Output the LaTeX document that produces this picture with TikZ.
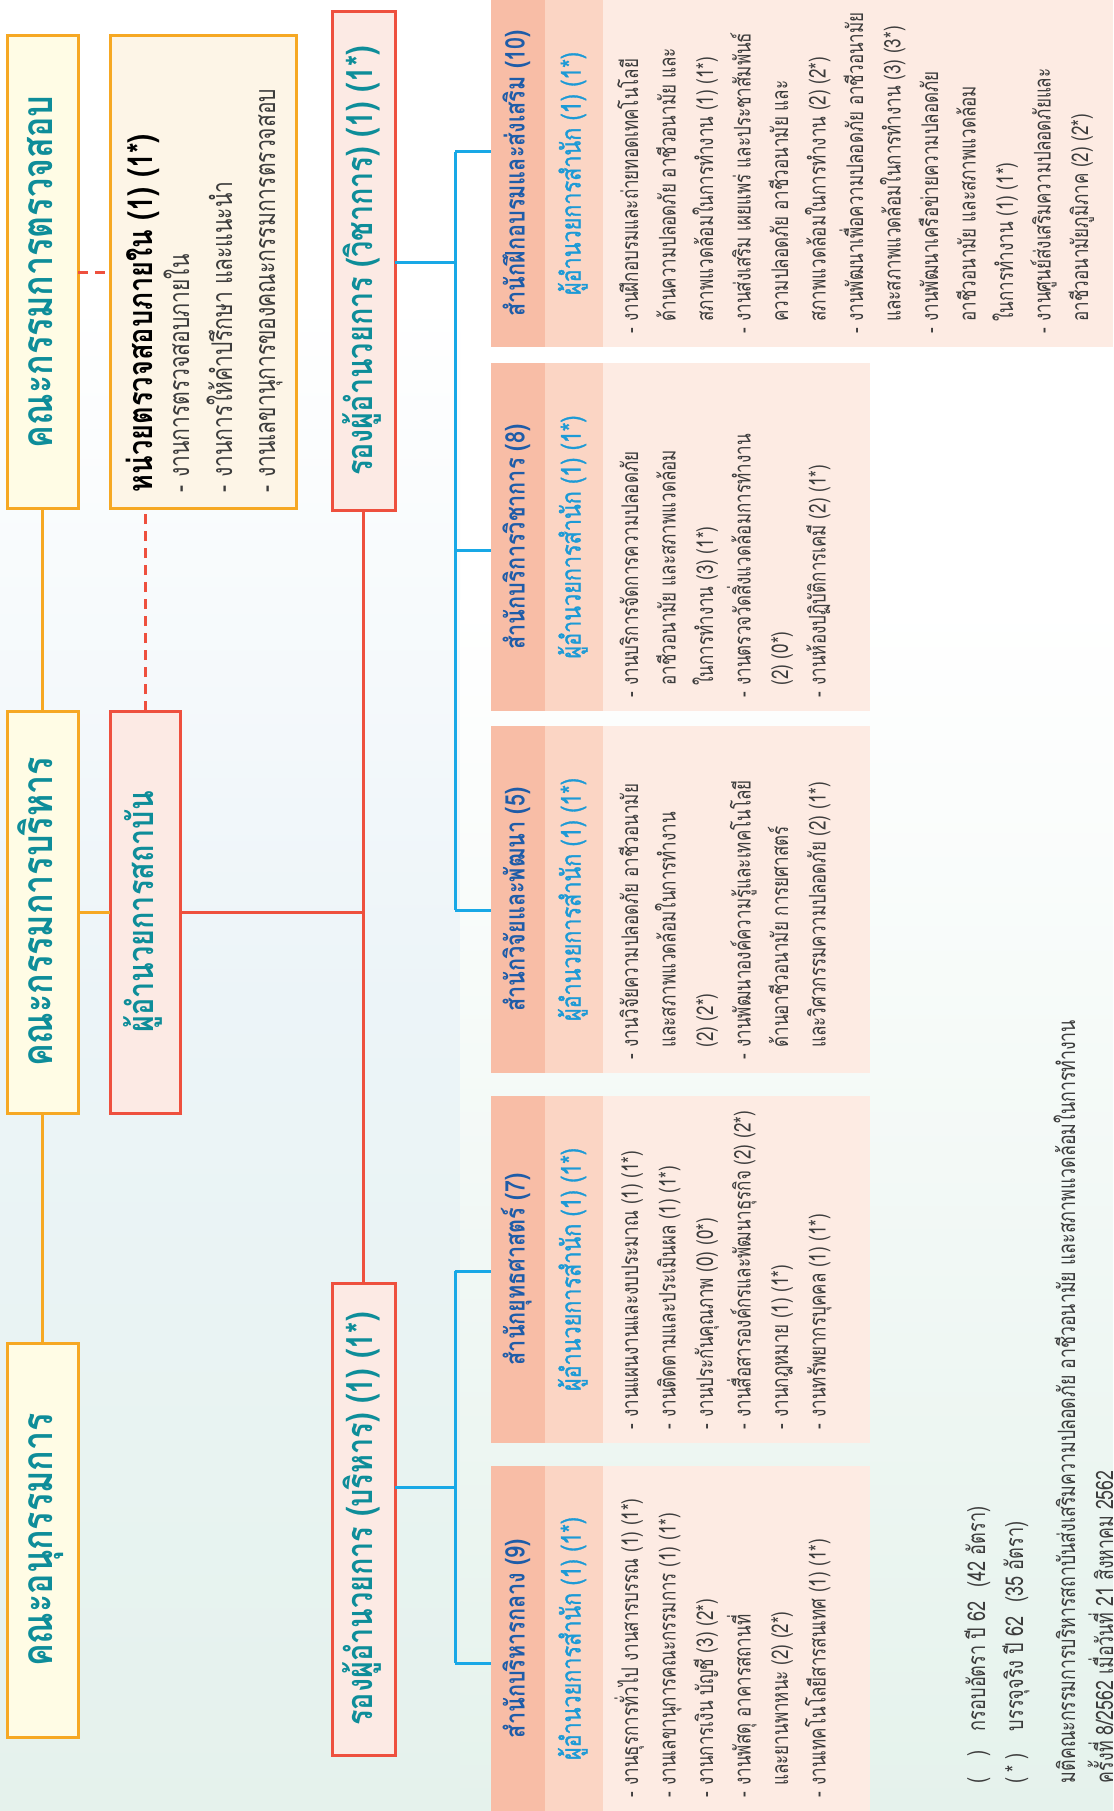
\documentclass[tikz,border=0pt]{standalone}
\usepackage{fontspec}
\setmainfont[Script=Thai]{Loma}
\newfontfamily\thbody[Script=Thai,FakeStretch=0.74]{Loma}
\newfontfamily\thhead[Script=Thai,FakeStretch=0.8]{Loma}
\newfontfamily\thsub[Script=Thai,FakeStretch=0.8,FakeBold=1.2]{Loma}
\usetikzlibrary{fit,calc}
\definecolor{cTeal}{RGB}{14,141,153}
\definecolor{cOrg}{RGB}{246,168,35}
\definecolor{cYel}{RGB}{255,252,229}
\definecolor{cCream}{RGB}{253,245,231}
\definecolor{cRed}{RGB}{238,80,62}
\definecolor{cPink}{RGB}{252,234,228}
\definecolor{cBlue}{RGB}{24,168,230}
\definecolor{cHdr}{RGB}{248,189,166}
\definecolor{cSub}{RGB}{251,213,196}
\definecolor{cCon}{RGB}{253,235,227}
\definecolor{cHdrT}{RGB}{30,92,168}
\definecolor{cSubT}{RGB}{28,154,214}
\definecolor{cTxt}{RGB}{60,60,60}
\definecolor{cBg}{RGB}{229,242,236}
\definecolor{cBl}{RGB}{236,244,248}
\newcommand\ind{\phantom{-\ }}
\newcommand\fst{\rule{0pt}{30pt}}
\begin{document}
\begin{tikzpicture}[x=1pt,y=-1pt,
  every node/.style={inner sep=0pt,outer sep=0pt},
  ybox/.style={draw=cOrg,line width=3pt,fill=cYel},
  abox/.style={draw=cOrg,line width=3pt,fill=cCream},
  rbox/.style={draw=cRed,line width=3pt,fill=cPink},
  hcol/.style={fill=cHdr},
  scol/.style={fill=cSub},
  ccol/.style={fill=cCon},
  ttl/.style={rotate=90,text=cTeal,font=\thhead\fontsize{36}{40}\selectfont\bfseries,text height=17pt,text depth=0pt},
  bigttl/.style={ttl,font=\thhead\fontsize{42.5}{46}\selectfont\bfseries,text height=20pt},
  htxt/.style={rotate=90,text=cHdrT,font=\thhead\fontsize{27}{30}\selectfont\bfseries,text height=13pt,text depth=0pt},
  stxt/.style={rotate=90,text=cSubT,font=\thsub\fontsize{27}{30}\selectfont,text height=13pt,text depth=0pt},
  ctxt/.style={rotate=90,anchor=north west,align=left,text=cTxt,font=\thbody\fontsize{23}{37.5}\selectfont},
  oline/.style={draw=cOrg,line width=3pt},
  rline/.style={draw=cRed,line width=3pt},
  rdash/.style={draw=cRed,line width=3pt,dash pattern=on 10pt off 7pt},
  bline/.style={draw=cBlue,line width=3pt},
]
\fill[white] (0,0) rectangle (1113,1811);
\shade[top color=white,bottom color=cBl] (0,300) rectangle (460,1000);
\shade[top color=cBl,bottom color=cBg] (0,1000) rectangle (460,1811);
\shade[top color=white,bottom color=cBg] (460,600) rectangle (1113,1811);
\useasboundingbox (0,0) rectangle (1113,1811);

% top column
\node[ybox,fit={(7,36)(78,508)}] (ktc) {};
\node[ybox,fit={(7,711)(78,1113)}] (kbr) {};
\node[ybox,fit={(7,1343)(78,1737)}] (kan) {};
\node[abox,fit={(110,36)(296,508)}] (aud) {};
\node[rbox,fit={(110,711)(180,1113)}] (dir) {};
\node[rbox,fit={(332,12)(395,510)}] (vpa) {};
\node[rbox,fit={(332,1283)(395,1755)}] (vpb) {};

% connectors
\draw[oline] (ktc) -- (kbr);
\draw[oline] (kbr) -- (kan);
\draw[oline] (kbr) -- (dir);
\draw[rline] (dir) -| (vpa);
\draw[rline] (dir) -| (vpb);
\draw[rdash] (ktc) -- (aud);
\draw[rdash] (dir) -- (dir |- aud.south);

\node[bigttl] (ktcT) at (ktc.center) {คณะกรรมการตรวจสอบ};
\node[bigttl] (kbrT) at (kbr.center) {คณะกรรมการบริหาร};
\node[bigttl] (kanT) at (kan.center) {คณะอนุกรรมการ};
\node[ttl] (dirT) at (dir.center) {ผู้อำนวยการสถาบัน};
\node[ttl] (vpaT) at (vpa.center) {รองผู้อำนวยการ (วิชาการ) (1) (1*)};
\node[ttl] (vpbT) at (vpb.center) {รองผู้อำนวยการ (บริหาร) (1) (1*)};

\node[rotate=90,anchor=base west,text=black,font=\thhead\fontsize{34}{36}\selectfont\bfseries] (audT) at (152,492) {หน่วยตรวจสอบภายใน (1) (1*)};
\node[ctxt,font=\thbody\fontsize{28.5}{43}\selectfont] (audL) at (159,492) {\fst- งานการตรวจสอบภายใน\\- งานการให้คำปรึกษา และแนะนำ\\- งานเลขานุการของคณะกรรมการตรวจสอบ};

% sections
\node[hcol,fit={(491,0)(545,347)}] (s1h) {};
\node[scol,fit={(545,0)(603,347)}] (s1s) {};
\node[ccol,fit={(603,0)(1113,347)}] (s1c) {};
\node[hcol,fit={(491,363)(545,711)}] (s2h) {};
\node[scol,fit={(545,363)(603,711)}] (s2s) {};
\node[ccol,fit={(603,363)(870,711)}] (s2c) {};
\node[hcol,fit={(491,726)(545,1073)}] (s3h) {};
\node[scol,fit={(545,726)(603,1073)}] (s3s) {};
\node[ccol,fit={(603,726)(870,1073)}] (s3c) {};
\node[hcol,fit={(491,1096)(545,1443)}] (s4h) {};
\node[scol,fit={(545,1096)(603,1443)}] (s4s) {};
\node[ccol,fit={(603,1096)(870,1443)}] (s4c) {};
\node[hcol,fit={(491,1466)(545,1811)}] (s5h) {};
\node[scol,fit={(545,1466)(603,1811)}] (s5s) {};
\node[ccol,fit={(603,1466)(870,1811)}] (s5c) {};

% blue connectors
\coordinate (jA) at (455,263);
\coordinate (b1) at (455,152);
\coordinate (b2) at (455,550);
\coordinate (b3) at (455,910);
\coordinate (b4) at (455,1271);
\coordinate (b5) at (455,1663);
\coordinate (jB) at (455,1487);
\draw[bline] (vpa.east |- jA) -- (jA);
\draw[bline] (b1) -- (b3);
\draw[bline] (b1) -- (b1 -| s1h.west);
\draw[bline] (b2) -- (b2 -| s2h.west);
\draw[bline] (b3) -- (b3 -| s3h.west);
\draw[bline] (vpb.east |- jB) -- (jB);
\draw[bline] (b4) -- (b5);
\draw[bline] (b4) -- (b4 -| s4h.west);
\draw[bline] (b5) -- (b5 -| s5h.west);

\node[htxt] (s1hT) at (s1h.center) {สำนักฝึกอบรมและส่งเสริม (10)};
\node[stxt] (s1sT) at (s1s.center) {ผู้อำนวยการสำนัก (1) (1*)};
\node[htxt] (s2hT) at (s2h.center) {สำนักบริการวิชาการ (8)};
\node[stxt] (s2sT) at (s2s.center) {ผู้อำนวยการสำนัก (1) (1*)};
\node[htxt] (s3hT) at (s3h.center) {สำนักวิจัยและพัฒนา (5)};
\node[stxt] (s3sT) at (s3s.center) {ผู้อำนวยการสำนัก (1) (1*)};
\node[htxt] (s4hT) at (s4h.center) {สำนักยุทธศาสตร์ (7)};
\node[stxt] (s4sT) at (s4s.center) {ผู้อำนวยการสำนัก (1) (1*)};
\node[htxt] (s5hT) at (s5h.center) {สำนักบริหารกลาง (9)};
\node[stxt] (s5sT) at (s5s.center) {ผู้อำนวยการสำนัก (1) (1*)};

\node[ctxt] (s1T) at (608,333) {\fst- งานฝึกอบรมและถ่ายทอดเทคโนโลยี\\\ind ด้านความปลอดภัย อาชีวอนามัย และ\\\ind สภาพแวดล้อมในการทำงาน (1) (1*)\\- งานส่งเสริม เผยแพร่ และประชาสัมพันธ์\\\ind ความปลอดภัย อาชีวอนามัย และ\\\ind สภาพแวดล้อมในการทำงาน (2) (2*)\\- งานพัฒนาเพื่อความปลอดภัย อาชีวอนามัย\\\ind และสภาพแวดล้อมในการทำงาน (3) (3*)\\- งานพัฒนาเครือข่ายความปลอดภัย\\\ind อาชีวอนามัย และสภาพแวดล้อม\\\ind ในการทำงาน (1) (1*)\\- งานศูนย์ส่งเสริมความปลอดภัยและ\\\ind อาชีวอนามัยภูมิภาค (2) (2*)};
\node[ctxt] (s2T) at (608,697) {\fst- งานบริการจัดการความปลอดภัย\\\ind อาชีวอนามัย และสภาพแวดล้อม\\\ind ในการทำงาน (3) (1*)\\- งานตรวจวัดสิ่งแวดล้อมการทำงาน\\\ind (2) (0*)\\- งานห้องปฏิบัติการเคมี (2) (1*)};
\node[ctxt] (s3T) at (608,1059) {\fst- งานวิจัยความปลอดภัย อาชีวอนามัย\\\ind และสภาพแวดล้อมในการทำงาน\\\ind (2) (2*)\\- งานพัฒนาองค์ความรู้และเทคโนโลยี\\\ind ด้านอาชีวอนามัย การยศาสตร์\\\ind และวิศวกรรมความปลอดภัย (2) (1*)};
\node[ctxt] (s4T) at (608,1429) {\fst- งานแผนงานและงบประมาณ (1) (1*)\\- งานติดตามและประเมินผล (1) (1*)\\- งานประกันคุณภาพ (0) (0*)\\- งานสื่อสารองค์กรและพัฒนาธุรกิจ (2) (2*)\\- งานกฎหมาย (1) (1*)\\- งานทรัพยากรบุคคล (1) (1*)};
\node[ctxt] (s5T) at (608,1797) {\fst- งานธุรการทั่วไป งานสารบรรณ (1) (1*)\\- งานเลขานุการคณะกรรมการ (1) (1*)\\- งานการเงิน บัญชี (3) (2*)\\- งานพัสดุ อาคารสถานที่\\\ind และยานพาหนะ (2) (2*)\\- งานเทคโนโลยีสารสนเทศ (1) (1*)};

\node[ctxt,font=\thbody\fontsize{24.5}{38}\selectfont] (leg) at (955,1783) {\fst\makebox[52pt][l]{(\hspace{20pt})}กรอบอัตรา ปี 62\hspace{14pt}(42 อัตรา)\\\makebox[52pt][l]{(\hspace{5pt}*\hspace{5pt})}บรรจุจริง ปี 62\hspace{14pt}(35 อัตรา)};
\node[ctxt,font=\thbody\fontsize{24}{38}\selectfont] (res) at (1045,1783) {\fst มติคณะกรรมการบริหารสถาบันส่งเสริมความปลอดภัย อาชีวอนามัย และสภาพแวดล้อมในการทำงาน\\ครั้งที่ 8/2562 เมื่อวันที่ 21 สิงหาคม 2562};
\end{tikzpicture}
\end{document}
